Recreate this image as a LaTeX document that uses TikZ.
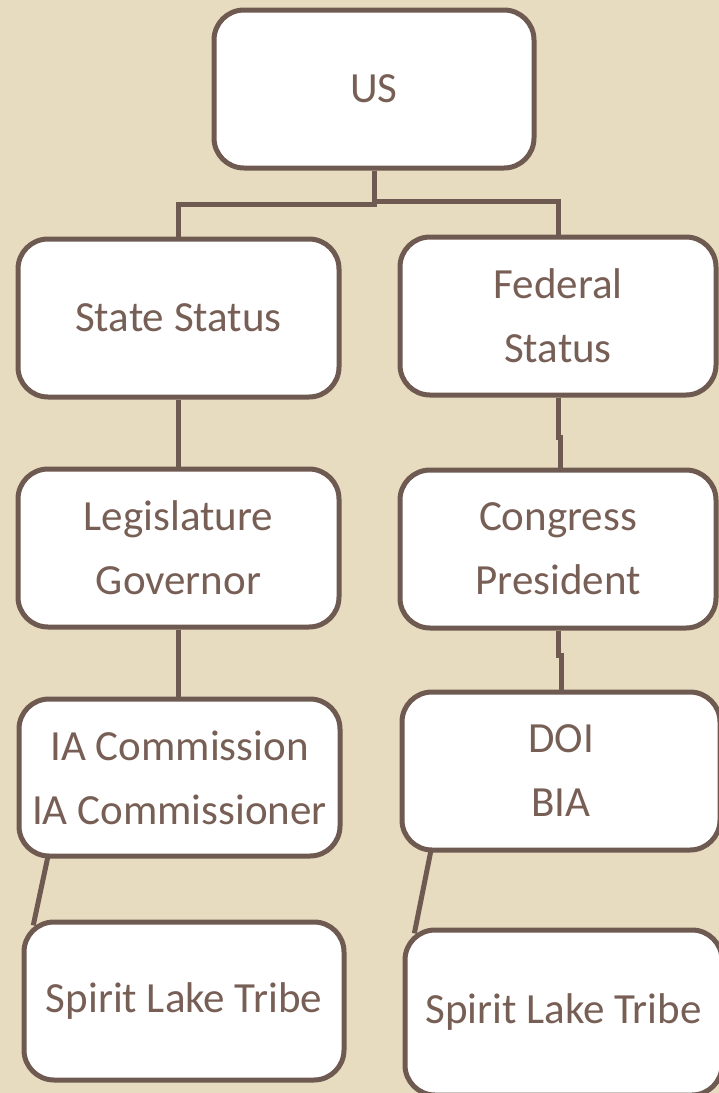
\documentclass[tikz,border=0pt]{standalone}
\usepackage{fontspec}
\setmainfont{Carlito}
\usetikzlibrary{calc}
\definecolor{paper}{HTML}{E8DCC0}
\definecolor{umber}{HTML}{6E5A50}
\definecolor{inkbrown}{HTML}{775F56}
\pgfdeclarelayer{paperlayer}
\pgfdeclarelayer{linklayer}
\pgfsetlayers{paperlayer,linklayer,main}
\begin{document}
\begin{tikzpicture}[x=1pt,y=-1pt,
  orgbox/.style={draw=umber, line width=5pt, fill=white, rounded corners=30pt,
    minimum width=320pt, minimum height=158pt, inner sep=0pt,
    align=center, text=inkbrown, font=\fontsize{43}{64}\selectfont},
  link/.style={draw=umber, line width=5pt}]
  % page and background
  \begin{pgfonlayer}{paperlayer}
    \fill[paper] (0,0) rectangle (719,1093);
  \end{pgfonlayer}
  \useasboundingbox (0,0) rectangle (719,1093);

  % top of the tree
  \node[orgbox] (us) at (374,89) {US};

  % state branch
  \node[orgbox, minimum width=321pt] (state) at (178.5,318) {State Status};
  \node[orgbox, minimum width=321pt] (leg) at (178.5,548) {Legislature\\Governor};
  \node[orgbox, minimum width=321pt, minimum height=157pt] (ia) at (179.5,777.5) {IA Commission\\IA Commissioner};
  \node[orgbox] (tribeL) at (184,1001) {Spirit Lake Tribe};

  % federal branch
  \node[orgbox, minimum width=316pt] (fed) at (558,316) {Federal\\Status};
  \node[orgbox, minimum width=316pt] (cong) at (558,549) {Congress\\President};
  \node[orgbox, minimum width=318pt] (doi) at (561,771) {DOI\\BIA};
  \node[orgbox, minimum width=317pt, minimum height=165pt] (tribeR) at (563.5,1012.5) {Spirit Lake Tribe};

  % connectors sit behind the boxes, so their ends tuck under the borders
  \begin{pgfonlayer}{linklayer}
    % from US to the two branches
    \coordinate (splitR) at (us.south |- 0,201);
    \coordinate (splitL) at (us.south |- 0,204);
    \draw[link] (us.south) -- (splitR) -| (fed.north);
    \draw[link] (splitR) -- (splitL) -| (state.north);

    % state branch
    \draw[link] (state.south) -- (leg.north);
    \draw[link] (leg.south) -- (leg.south |- ia.north);
    \draw[link, shorten <=-6pt, shorten >=-6pt]
      ($(ia.south west)+(31,0)$) -- ($(tribeL.north west)+(13,0)$);

    % federal branch
    \coordinate (jogA) at ($(fed.south)+(2,40)$);
    \draw[link] (fed.south) -- ++(0,40) -- (jogA) -- (jogA |- cong.north);
    \coordinate (jogB) at ($(cong.south)+(3,25)$);
    \draw[link] (cong.south) -- ++(0,25) -- (jogB) -- (jogB |- doi.north);
    \draw[link, shorten <=-6pt, shorten >=-6pt]
      ($(doi.south west)+(31,0)$) -- ($(tribeR.north west)+(13,0)$);
  \end{pgfonlayer}
\end{tikzpicture}
\end{document}
